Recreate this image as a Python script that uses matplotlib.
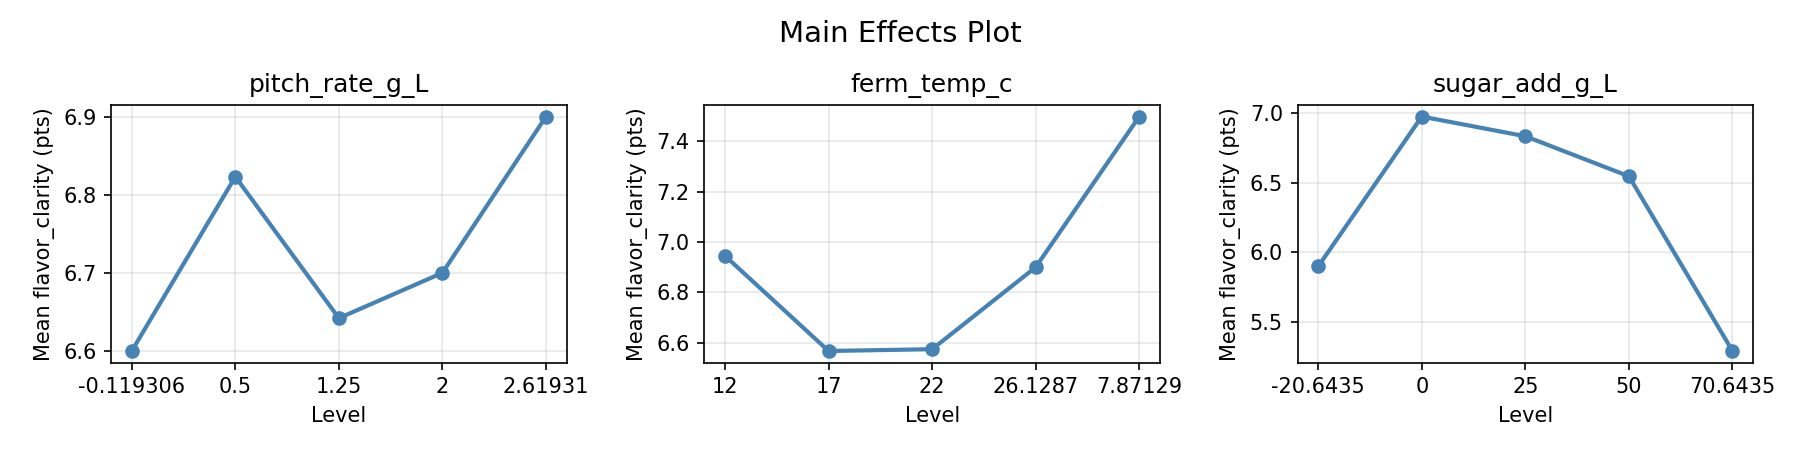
import matplotlib
matplotlib.use("Agg")
import matplotlib.pyplot as plt

suptitle = "Main Effects Plot"
factors = ["pitch_rate_g_L", "ferm_temp_c", "sugar_add_g_L"]

pitch_levels = ["-0.119306", "0.5", "1.25", "2", "2.61931"]
pitch_means = [6.600, 6.823, 6.642, 6.700, 6.900]

ferm_levels = ["12", "17", "22", "26.1287", "7.87129"]
ferm_means = [6.945, 6.568, 6.575, 6.900, 7.497]

sugar_levels = ["-20.6435", "0", "25", "50", "70.6435"]
sugar_means = [5.900, 6.973, 6.832, 6.545, 5.293]

levels_list = [pitch_levels, ferm_levels, sugar_levels]
means_list = [pitch_means, ferm_means, sugar_means]

ylabel = "Mean flavor_clarity (pts)"
xlabel = "Level"

fig, axes = plt.subplots(1, 3, figsize=(12, 3), dpi=150)
for ax, name, levels, means in zip(axes, factors, levels_list, means_list):
    x = list(range(len(levels)))
    ax.plot(x, means, marker="o", color="steelblue", linewidth=2, markersize=6)
    ax.set_xticks(x)
    ax.set_xticklabels(levels)
    ax.set_title(name, fontsize=12)
    ax.set_xlabel(xlabel)
    ax.set_ylabel(ylabel)
    ax.grid(True, alpha=0.3)

fig.suptitle(suptitle, fontsize=14, y=0.955)
fig.subplots_adjust(left=0.0617, right=0.974, bottom=0.194, top=0.767, wspace=0.302)
fig.savefig("out.png", dpi=150)
